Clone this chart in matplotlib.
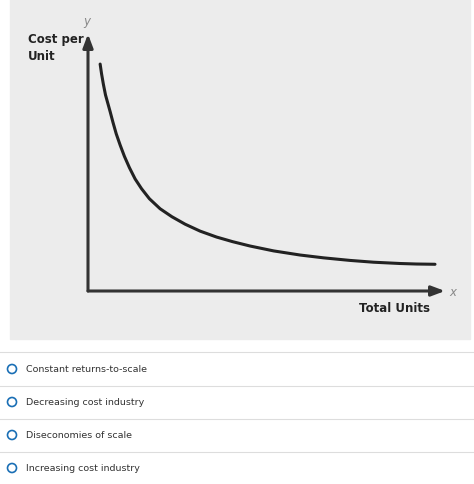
import matplotlib
matplotlib.use("Agg")
import matplotlib.pyplot as plt
from matplotlib.patches import Rectangle, Circle

units = [3.4, 3.8, 4.3, 4.9, 5.5, 6.2, 7.0, 7.9, 9.0, 10.2, 11.6, 13.2, 15.0, 17.2, 20.2, 23.5, 27.2, 31.4, 36.0, 40.5, 45.4, 52.0, 59.4, 66.0, 73.4, 80.0, 87.4, 92.0, 97.2]
cost = [88.3, 84.5, 80.5, 76.3, 73.3, 69.8, 65.6, 61.2, 56.8, 52.4, 48.0, 43.6, 39.8, 35.9, 32.0, 28.9, 26.0, 23.3, 21.0, 19.2, 17.5, 15.6, 14.0, 12.9, 11.9, 11.2, 10.7, 10.5, 10.4]
options = ["Constant returns-to-scale", "Decreasing cost industry",
           "Diseconomies of scale", "Increasing cost industry"]

W, H = 474, 485
fig = plt.figure(figsize=(W/100, H/100), dpi=100)
bg = fig.add_axes([0, 0, 1, 1])
bg.set_xlim(0, W); bg.set_ylim(H, 0); bg.axis("off")
bg.add_patch(Rectangle((10, 0), 460, 340, color="#ececec", zorder=0))
for i, t in enumerate(options):
    y = 370 + i * 33
    bg.add_patch(Circle((12, y), 4.5, fill=False, ec="#1a6fb5", lw=1.2))
    bg.text(26, y, t, fontsize=6.8, va="center", color="#333333")
    if i < 3:
        bg.plot([0, W], [y + 17, y + 17], color="#dddddd", lw=0.8)
bg.plot([0, W], [353, 353], color="#dddddd", lw=0.8)

ax = fig.add_axes([88/W, 1-292/H, (445-88)/W, (292-35)/H])
ax.set_xlim(0, 100); ax.set_ylim(0, 100)
ax.axis("off")
ax.patch.set_alpha(0)
ax.plot(units, cost, color="#222222", lw=2.2, solid_capstyle="round", solid_joinstyle="round")
ax.annotate("", xy=(100, 0), xytext=(0, 0),
            arrowprops=dict(arrowstyle="-|>,head_length=0.8,head_width=0.3", color="#333333", lw=2.2, shrinkA=0, shrinkB=0))
ax.annotate("", xy=(0, 100), xytext=(0, 0),
            arrowprops=dict(arrowstyle="-|>,head_length=0.8,head_width=0.3", color="#333333", lw=2.2, shrinkA=0, shrinkB=0))

bg.text(28, 40, "Cost per", fontsize=8.5, fontweight="bold", va="center", color="#222222")
bg.text(28, 56, "Unit", fontsize=8.5, fontweight="bold", va="center", color="#222222")
bg.text(87, 21, "y", fontsize=8.5, style="italic", color="#888888", va="center", ha="center")
bg.text(453, 293, "x", fontsize=8.5, style="italic", color="#888888", va="center", ha="center")
bg.text(430, 309, "Total Units", fontsize=8.5, fontweight="bold", va="center", ha="right", color="#222222")

fig.savefig("out.png", dpi=100)
